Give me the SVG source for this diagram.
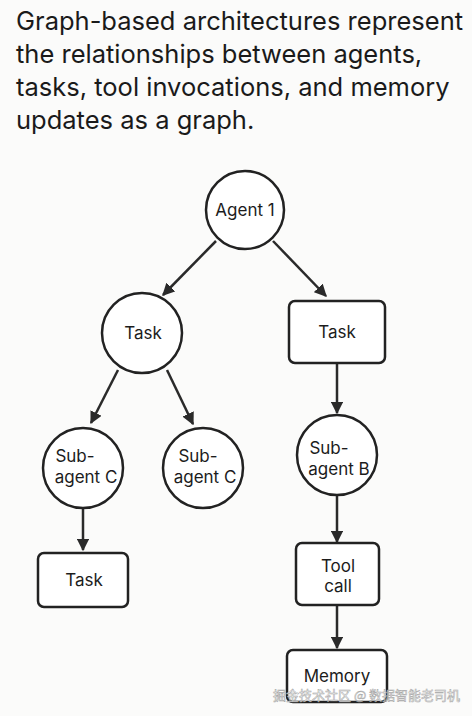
<svg xmlns="http://www.w3.org/2000/svg" width="472" height="716" viewBox="0 0 472 716">
<defs>
<style>
.title{font-family:Inter,"Liberation Sans",sans-serif;font-size:25.5px;fill:#1a1a1a}
.n{fill:#fff;stroke:#222;stroke-width:2.5}
.t{font-family:Inter,"Liberation Sans",sans-serif;font-size:17px;fill:#1c1c1c;text-anchor:middle}
.e{stroke:#2a2a2a;stroke-width:2.5;fill:none;marker-end:url(#ah)}
.wm{font-family:"Noto Sans CJK SC","Noto Sans",sans-serif;font-size:13px;fill:#fff;stroke:#999;stroke-width:0.5;opacity:0.9}
</style>
<marker id="ah" viewBox="0 0 10 10" refX="9" refY="5" markerWidth="5" markerHeight="5" orient="auto" markerUnits="strokeWidth">
<path d="M0,0 L10,5 L0,10 z" fill="#2a2a2a"/>
</marker>
</defs>
<rect width="472" height="716" fill="#fbfbfa"/>
<g id="title" class="title">
<text x="16" y="30">Graph-based architectures represent</text>
<text x="16" y="63">the relationships between agents,</text>
<text x="16" y="96">tasks, tool invocations, and memory</text>
<text x="16" y="129">updates as a graph.</text>
</g>
<g id="connectors">
<line class="e" x1="216" y1="241" x2="163" y2="295"/>
<line class="e" x1="273" y1="241" x2="326" y2="296"/>
<line class="e" x1="118" y1="370" x2="91" y2="423"/>
<line class="e" x1="167" y1="370" x2="193" y2="424"/>
<line class="e" x1="83" y1="508" x2="83" y2="550"/>
<line class="e" x1="337" y1="363" x2="337" y2="413"/>
<line class="e" x1="337" y1="495" x2="337" y2="542"/>
<line class="e" x1="337" y1="605" x2="337" y2="648"/>
</g>
<g id="agent1"><circle class="n" cx="245" cy="210" r="39"/><text class="t" x="245" y="216">Agent 1</text></g>
<g id="taskL"><circle class="n" cx="142" cy="333" r="40"/><text class="t" x="143" y="339">Task</text></g>
<g id="taskR"><rect class="n" x="289" y="301" width="96" height="62" rx="6"/><text class="t" x="337" y="338">Task</text></g>
<g id="subC1"><circle class="n" cx="83" cy="468" r="40"/><text class="t" x="75" y="462">Sub-</text><text class="t" x="86" y="483">agent C</text></g>
<g id="subC2"><circle class="n" cx="203" cy="468" r="40"/><text class="t" x="198" y="462">Sub-</text><text class="t" x="205" y="483">agent C</text></g>
<g id="taskB"><rect class="n" x="38" y="553" width="90" height="54" rx="6"/><text class="t" x="84" y="586">Task</text></g>
<g id="subB"><circle class="n" cx="337" cy="455" r="40"/><text class="t" x="329" y="454">Sub-</text><text class="t" x="339" y="475">agent B</text></g>
<g id="tool"><rect class="n" x="296" y="543" width="83" height="62" rx="6"/><text class="t" x="338" y="572">Tool</text><text class="t" x="338" y="592">call</text></g>
<g id="memory"><rect class="n" x="287" y="650" width="100" height="52" rx="6"/><text class="t" x="337" y="682">Memory</text></g>
<text class="wm" x="273" y="700">掘金技术社区 @ 数据智能老司机</text>
</svg>
